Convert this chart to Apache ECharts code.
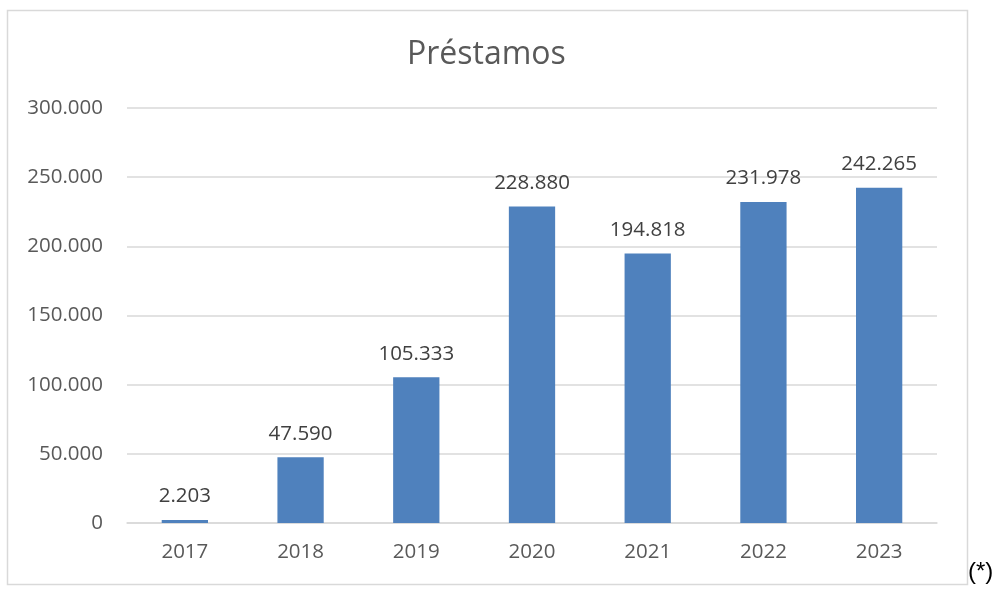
<!DOCTYPE html>
<html>
<head>
<meta charset="utf-8">
<script src="https://cdn.jsdelivr.net/npm/echarts@6/dist/echarts.min.js"></script>
<style>
  html, body { margin: 0; padding: 0; background: #fff; }
  #chart { width: 995px; height: 592px; }
</style>
</head>
<body>
<div id="chart"></div>
<script>
// datos del gráfico
var years = ['2017', '2018', '2019', '2020', '2021', '2022', '2023'];
var prestamos = [2203, 47590, 105333, 228880, 194818, 231978, 242265];

// separador de miles con punto
function fmt(v) {
  return String(Math.round(v)).replace(/\B(?=(\d{3})+(?!\d))/g, '.');
}

var myChart = echarts.init(document.getElementById('chart'));

var option = {
  backgroundColor: '#ffffff',
  animation: false,
  textStyle: { fontFamily: 'Open Sans, Noto Sans, sans-serif' },
  title: {
    text: 'Préstamos',
    left: 402,
    top: 34,
    textStyle: { fontSize: 32, fontWeight: 'normal', color: '#595959' }
  },
  grid: { left: 127, right: 58, top: 108, bottom: 69 },
  xAxis: {
    type: 'category',
    data: years,
    axisTick: { show: false },
    axisLine: { lineStyle: { color: '#d9d9d9', width: 1.5 } },
    axisLabel: { fontSize: 20.5, color: '#595959', margin: 19 }
  },
  yAxis: {
    type: 'value',
    min: 0,
    max: 300000,
    interval: 50000,
    axisLine: { show: false },
    axisTick: { show: false },
    splitLine: { lineStyle: { color: '#d9d9d9', width: 1.5 } },
    axisLabel: { fontSize: 20.5, color: '#595959', margin: 24, formatter: fmt }
  },
  series: [{
    type: 'bar',
    data: prestamos,
    barWidth: '40%',
    itemStyle: { color: '#4f81bd' },
    label: {
      show: true,
      position: 'top',
      distance: 13,
      fontSize: 20.5,
      color: '#404040',
      formatter: function (p) { return fmt(p.value); }
    }
  }],
  graphic: [
    {
      type: 'rect',
      shape: { x: 7.5, y: 10.5, width: 960, height: 574 },
      style: { fill: 'none', stroke: '#d9d9d9', lineWidth: 1.5 },
      silent: true
    },
    {
      type: 'text',
      left: 968,
      top: 560,
      style: { text: '(*)', fontSize: 24, fill: '#000', fontFamily: 'Liberation Sans, Arial, sans-serif' }
    }
  ]
};

myChart.setOption(option);
</script>
</body>
</html>
